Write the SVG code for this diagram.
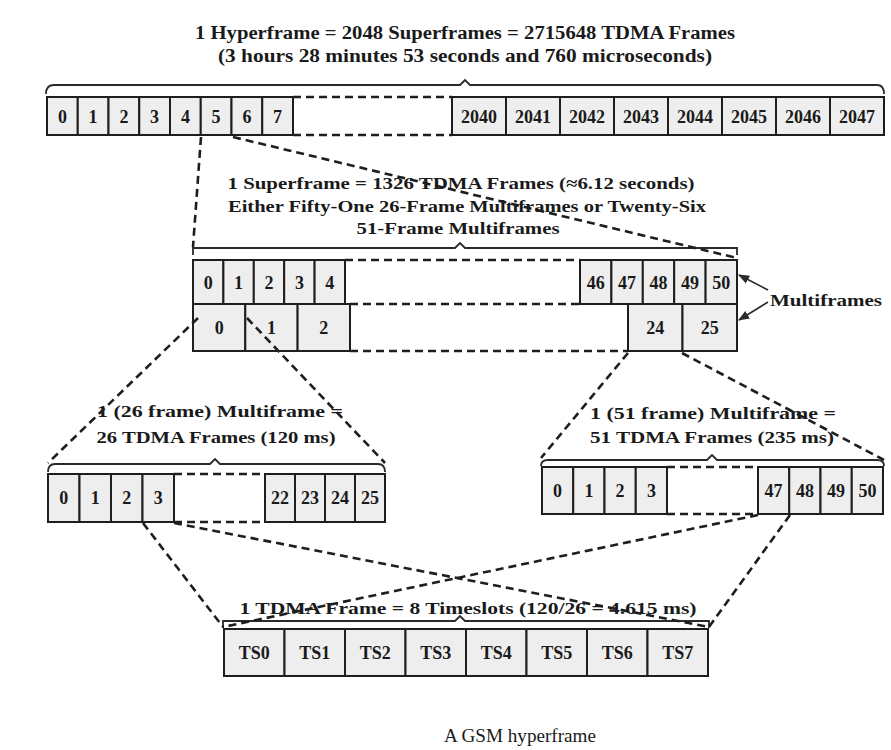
<svg xmlns="http://www.w3.org/2000/svg" width="891" height="750" viewBox="0 0 891 750">
<defs>
<style>
.t{font-family:"Liberation Serif","Times New Roman",serif;font-weight:bold;fill:#1a1a1a;}
.c{fill:#eeeeee;stroke:#1e1e1e;stroke-width:2;}
.cl{font-family:"Liberation Serif","Times New Roman",serif;font-weight:bold;font-size:18px;fill:#1a1a1a;text-anchor:middle;}
.d{fill:none;stroke:#1e1e1e;stroke-width:2.6;stroke-dasharray:8 5;}
.b{fill:none;stroke:#2a2a2a;stroke-width:1.8;}
.a{fill:none;stroke:#2a2a2a;stroke-width:1.6;}
</style>
<marker id="ah" viewBox="0 0 10 10" refX="9" refY="5" markerWidth="7" markerHeight="7" orient="auto">
<path d="M0,1 L10,5 L0,9 z" fill="#2a2a2a"/>
</marker>
</defs>
<rect width="891" height="750" fill="#ffffff"/>

<g id="hyperframe">
<text class="t" x="465" y="39" font-size="18" text-anchor="middle" textLength="540" lengthAdjust="spacingAndGlyphs">1 Hyperframe = 2048 Superframes = 2715648 TDMA Frames</text>
<text class="t" x="465" y="62" font-size="18" text-anchor="middle" textLength="494" lengthAdjust="spacingAndGlyphs">(3 hours 28 minutes 53 seconds and 760 microseconds)</text>
<path class="b" d="M46,94 Q46,85 54,85 L460,85 L465,80 L470,85 L877,85 Q884,85 884,94"/>
<rect class="c" x="47" y="97" width="30.75" height="38"/><text class="cl" x="62.4" y="123">0</text>
<rect class="c" x="77.75" y="97" width="30.75" height="38"/><text class="cl" x="93.1" y="123">1</text>
<rect class="c" x="108.5" y="97" width="30.75" height="38"/><text class="cl" x="123.9" y="123">2</text>
<rect class="c" x="139.25" y="97" width="30.75" height="38"/><text class="cl" x="154.6" y="123">3</text>
<rect class="c" x="170" y="97" width="30.75" height="38"/><text class="cl" x="185.4" y="123">4</text>
<rect class="c" x="200.75" y="97" width="30.75" height="38"/><text class="cl" x="216.1" y="123">5</text>
<rect class="c" x="231.5" y="97" width="30.75" height="38"/><text class="cl" x="246.9" y="123">6</text>
<rect class="c" x="262.25" y="97" width="30.75" height="38"/><text class="cl" x="277.6" y="123">7</text>
<rect class="c" x="452" y="97" width="54" height="38"/><text class="cl" x="479" y="123">2040</text>
<rect class="c" x="506" y="97" width="54" height="38"/><text class="cl" x="533" y="123">2041</text>
<rect class="c" x="560" y="97" width="54" height="38"/><text class="cl" x="587" y="123">2042</text>
<rect class="c" x="614" y="97" width="54" height="38"/><text class="cl" x="641" y="123">2043</text>
<rect class="c" x="668" y="97" width="54" height="38"/><text class="cl" x="695" y="123">2044</text>
<rect class="c" x="722" y="97" width="54" height="38"/><text class="cl" x="749" y="123">2045</text>
<rect class="c" x="776" y="97" width="54" height="38"/><text class="cl" x="803" y="123">2046</text>
<rect class="c" x="830" y="97" width="54" height="38"/><text class="cl" x="857" y="123">2047</text>
</g>

<g id="superframe">
<text class="t" x="461" y="189" font-size="17" text-anchor="middle" textLength="467" lengthAdjust="spacingAndGlyphs">1 Superframe = 1326 TDMA Frames (≈6.12 seconds)</text>
<text class="t" x="467" y="212" font-size="17" text-anchor="middle" textLength="478" lengthAdjust="spacingAndGlyphs">Either Fifty-One 26-Frame Multiframes or Twenty-Six</text>
<text class="t" x="458" y="234" font-size="17" text-anchor="middle" textLength="203" lengthAdjust="spacingAndGlyphs">51-Frame Multiframes</text>
<path class="b" d="M193,255 L193,248 L455,248 L460,243 L465,248 L737,248 L737,255"/>
<rect class="c" x="193" y="260" width="30.4" height="44"/><text class="cl" x="208.2" y="289">0</text>
<rect class="c" x="223.4" y="260" width="30.4" height="44"/><text class="cl" x="238.6" y="289">1</text>
<rect class="c" x="253.8" y="260" width="30.4" height="44"/><text class="cl" x="269" y="289">2</text>
<rect class="c" x="284.2" y="260" width="30.4" height="44"/><text class="cl" x="299.4" y="289">3</text>
<rect class="c" x="314.6" y="260" width="30.4" height="44"/><text class="cl" x="329.8" y="289">4</text>
<rect class="c" x="580" y="260" width="31.4" height="44"/><text class="cl" x="595.7" y="289">46</text>
<rect class="c" x="611.4" y="260" width="31.4" height="44"/><text class="cl" x="627.1" y="289">47</text>
<rect class="c" x="642.8" y="260" width="31.4" height="44"/><text class="cl" x="658.5" y="289">48</text>
<rect class="c" x="674.2" y="260" width="31.4" height="44"/><text class="cl" x="689.9" y="289">49</text>
<rect class="c" x="705.6" y="260" width="31.4" height="44"/><text class="cl" x="721.3" y="289">50</text>
<rect class="c" x="193" y="304" width="52.3" height="47"/><text class="cl" x="219.2" y="334">0</text>
<rect class="c" x="245.3" y="304" width="52.3" height="47"/><text class="cl" x="271.5" y="334">1</text>
<rect class="c" x="297.6" y="304" width="52.4" height="47"/><text class="cl" x="323.8" y="334">2</text>
<rect class="c" x="628" y="304" width="54.5" height="47"/><text class="cl" x="655.2" y="334">24</text>
<rect class="c" x="682.5" y="304" width="54.5" height="47"/><text class="cl" x="709.8" y="334">25</text>
<text class="t" x="826" y="306" font-size="17" text-anchor="middle" textLength="112" lengthAdjust="spacingAndGlyphs">Multiframes</text>
</g>

<g id="multiframe26">
<text class="t" x="220" y="417" font-size="17" text-anchor="middle" textLength="246" lengthAdjust="spacingAndGlyphs">1 (26 frame) Multiframe =</text>
<text class="t" x="216" y="443" font-size="17" text-anchor="middle" textLength="239" lengthAdjust="spacingAndGlyphs">26 TDMA Frames (120 ms)</text>
<path class="b" d="M48,472 Q48,464 55,464 L210,464 L215,459 L220,464 L378,464 Q385,464 385,472"/>
<rect class="c" x="48" y="474" width="31.5" height="48"/><text class="cl" x="63.8" y="504">0</text>
<rect class="c" x="79.5" y="474" width="31.5" height="48"/><text class="cl" x="95.2" y="504">1</text>
<rect class="c" x="111" y="474" width="31.5" height="48"/><text class="cl" x="126.8" y="504">2</text>
<rect class="c" x="142.5" y="474" width="31.5" height="48"/><text class="cl" x="158.2" y="504">3</text>
<rect class="c" x="265" y="474" width="30" height="48"/><text class="cl" x="280" y="504">22</text>
<rect class="c" x="295" y="474" width="30" height="48"/><text class="cl" x="310" y="504">23</text>
<rect class="c" x="325" y="474" width="30" height="48"/><text class="cl" x="340" y="504">24</text>
<rect class="c" x="355" y="474" width="30" height="48"/><text class="cl" x="370" y="504">25</text>
</g>

<g id="multiframe51">
<text class="t" x="713" y="419" font-size="17" text-anchor="middle" textLength="246" lengthAdjust="spacingAndGlyphs">1 (51 frame) Multiframe =</text>
<text class="t" x="712" y="443" font-size="17" text-anchor="middle" textLength="244" lengthAdjust="spacingAndGlyphs">51 TDMA Frames (235 ms)</text>
<path class="b" d="M541,466 Q541,460 548,460 L707,460 L712,455 L717,460 L877,460 Q884,460 884,466"/>
<rect class="c" x="542" y="467" width="31.25" height="47"/><text class="cl" x="557.6" y="497">0</text>
<rect class="c" x="573.25" y="467" width="31.25" height="47"/><text class="cl" x="588.9" y="497">1</text>
<rect class="c" x="604.5" y="467" width="31.25" height="47"/><text class="cl" x="620.1" y="497">2</text>
<rect class="c" x="635.75" y="467" width="31.25" height="47"/><text class="cl" x="651.4" y="497">3</text>
<rect class="c" x="758" y="467" width="31.25" height="47"/><text class="cl" x="773.6" y="497">47</text>
<rect class="c" x="789.25" y="467" width="31.25" height="47"/><text class="cl" x="804.9" y="497">48</text>
<rect class="c" x="820.5" y="467" width="31.25" height="47"/><text class="cl" x="836.1" y="497">49</text>
<rect class="c" x="851.75" y="467" width="31.25" height="47"/><text class="cl" x="867.4" y="497">50</text>
</g>

<g id="tdmaframe">
<text class="t" x="468" y="614" font-size="17" text-anchor="middle" textLength="457" lengthAdjust="spacingAndGlyphs">1 TDMA Frame = 8 Timeslots (120/26 = 4.615 ms)</text>
<path class="b" d="M223,628 L223,621 L455,621 L460,616 L465,621 L709,621 L709,628"/>
<rect class="c" x="224" y="629" width="60.5" height="47"/><text class="cl" x="254.2" y="659">TS0</text>
<rect class="c" x="284.5" y="629" width="60.5" height="47"/><text class="cl" x="314.8" y="659">TS1</text>
<rect class="c" x="345" y="629" width="60.5" height="47"/><text class="cl" x="375.2" y="659">TS2</text>
<rect class="c" x="405.5" y="629" width="60.5" height="47"/><text class="cl" x="435.8" y="659">TS3</text>
<rect class="c" x="466" y="629" width="60.5" height="47"/><text class="cl" x="496.2" y="659">TS4</text>
<rect class="c" x="526.5" y="629" width="60.5" height="47"/><text class="cl" x="556.8" y="659">TS5</text>
<rect class="c" x="587" y="629" width="60.5" height="47"/><text class="cl" x="617.2" y="659">TS6</text>
<rect class="c" x="647.5" y="629" width="60.5" height="47"/><text class="cl" x="677.8" y="659">TS7</text>
</g>

<g id="caption">
<text x="520" y="742" font-family="'Liberation Serif','Times New Roman',serif" font-size="18" fill="#1a1a1a" text-anchor="middle" textLength="152" lengthAdjust="spacingAndGlyphs">A GSM hyperframe</text>
</g>

<g id="connectors">
<line class="d" x1="293" y1="97" x2="452" y2="97"/>
<line class="d" x1="293" y1="135" x2="452" y2="135"/>
<line class="d" x1="201" y1="137" x2="193" y2="247"/>
<line class="d" x1="233" y1="137" x2="737" y2="258"/>
<line class="d" x1="345" y1="260" x2="580" y2="260"/>
<line class="d" x1="350" y1="304" x2="580" y2="304"/>
<line class="d" x1="350" y1="351" x2="628" y2="351"/>
<line class="d" x1="198" y1="318" x2="48" y2="463"/>
<line class="d" x1="247" y1="318" x2="385" y2="463"/>
<line class="d" x1="628" y1="353" x2="541" y2="458"/>
<line class="d" x1="682" y1="353" x2="884" y2="460"/>
<line class="d" x1="174" y1="474" x2="265" y2="474"/>
<line class="d" x1="174" y1="522" x2="265" y2="522"/>
<line class="d" x1="667" y1="467" x2="758" y2="467"/>
<line class="d" x1="667" y1="514" x2="758" y2="514"/>
<line class="d" x1="143" y1="523" x2="223" y2="627"/>
<line class="d" x1="174" y1="523" x2="709" y2="627"/>
<line class="d" x1="758" y1="515" x2="223" y2="627"/>
<line class="d" x1="790" y1="515" x2="709" y2="627"/>
<line class="a" x1="768" y1="290" x2="739" y2="275" marker-end="url(#ah)"/>
<line class="a" x1="768" y1="302" x2="739" y2="320" marker-end="url(#ah)"/>
</g>
</svg>
